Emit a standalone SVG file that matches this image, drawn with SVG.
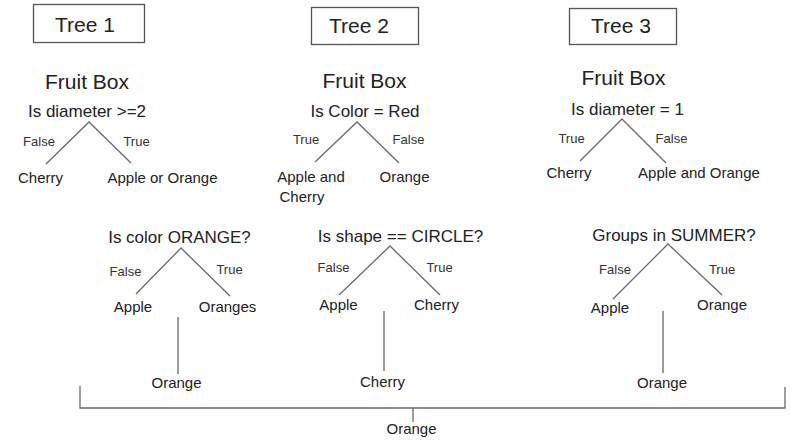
<svg xmlns="http://www.w3.org/2000/svg" width="790" height="441" viewBox="0 0 790 441">
<style>
text{font-family:"Liberation Sans",Arial,sans-serif;fill:#222;text-anchor:middle}
.title{font-size:21px}
.fb{font-size:21px}
.q{font-size:17px}
.leaf{font-size:15px}
.lbl{font-size:13px;fill:#333}
.box{fill:#fff;stroke:#555;stroke-width:1.3}
.edge{stroke:#6a6a6a;stroke-width:1.3;fill:none}
</style>
<rect width="790" height="441" fill="#fff"/>
<g id="tree1-title"><rect class="box" x="33.5" y="4.5" width="111" height="38"/><text class="title" x="85" y="32">Tree 1</text></g>
<g id="tree2-title"><rect class="box" x="311.5" y="7.5" width="107" height="37"/><text class="title" x="359" y="33">Tree 2</text></g>
<g id="tree3-title"><rect class="box" x="569.5" y="8.5" width="107" height="36"/><text class="title" x="621" y="33">Tree 3</text></g>

<g id="t1-root"><text class="fb" x="87" y="89">Fruit Box</text><text class="q" x="87" y="117" font-size="17.5">Is diameter &gt;=2</text></g>
<g id="t1-cherry"><text class="leaf" x="40.5" y="183">Cherry</text></g>
<g id="t1-appleorange"><text class="leaf" x="162.5" y="183">Apple or Orange</text></g>

<g id="t2-root"><text class="fb" x="364.5" y="88">Fruit Box</text><text class="q" x="365" y="117">Is Color = Red</text></g>
<g id="t2-applecherry"><text class="leaf" x="311" y="182">Apple and</text><text class="leaf" x="302" y="202">Cherry</text></g>
<g id="t2-orange"><text class="leaf" x="404.5" y="182">Orange</text></g>

<g id="t3-root"><text class="fb" x="623.5" y="85">Fruit Box</text><text class="q" x="627.5" y="115" font-size="17.5">Is diameter = 1</text></g>
<g id="t3-cherry"><text class="leaf" x="569" y="178">Cherry</text></g>
<g id="t3-appleorange"><text class="leaf" x="699" y="178">Apple and Orange</text></g>

<g id="q1"><text class="q" x="179.5" y="243">Is color ORANGE?</text></g>
<g id="q1-apple"><text class="leaf" x="133" y="312">Apple</text></g>
<g id="q1-oranges"><text class="leaf" x="227.5" y="312">Oranges</text></g>
<g id="q1-result"><text class="leaf" x="176.5" y="388">Orange</text></g>

<g id="q2"><text class="q" x="400.5" y="242">Is shape == CIRCLE?</text></g>
<g id="q2-apple"><text class="leaf" x="338.5" y="310">Apple</text></g>
<g id="q2-cherry"><text class="leaf" x="436.5" y="310">Cherry</text></g>
<g id="q2-result"><text class="leaf" x="382.5" y="387">Cherry</text></g>

<g id="q3"><text class="q" x="674" y="241" font-size="18">Groups in SUMMER?</text></g>
<g id="q3-apple"><text class="leaf" x="610" y="313">Apple</text></g>
<g id="q3-orange"><text class="leaf" x="722" y="310">Orange</text></g>
<g id="q3-result"><text class="leaf" x="662" y="388">Orange</text></g>

<g id="final"><text class="leaf" x="411.5" y="434">Orange</text></g>

<g id="connectors">
<polyline class="edge" points="46,164 89,122 131,163"/>
<polyline class="edge" points="315,162 357,122 399,163"/>
<polyline class="edge" points="580,161 622,119 666,163"/>
<polyline class="edge" points="136,294 181,248 230,296"/>
<polyline class="edge" points="339,295 390,246 440,295"/>
<polyline class="edge" points="613,299 668,244 722,295"/>
<line class="edge" x1="178" y1="317" x2="178" y2="374"/>
<line class="edge" x1="384" y1="311" x2="384" y2="371"/>
<line class="edge" x1="663" y1="311" x2="663" y2="373"/>
<polyline class="edge" points="80,386 80,408 785,408 785,387"/>
<line class="edge" x1="413" y1="408" x2="413" y2="422"/>
<g class="lbl-group">
<text class="lbl" x="39" y="146">False</text>
<text class="lbl" x="136.5" y="146">True</text>
<text class="lbl" x="306" y="144">True</text>
<text class="lbl" x="408.5" y="144">False</text>
<text class="lbl" x="571.5" y="143">True</text>
<text class="lbl" x="671.5" y="143">False</text>
<text class="lbl" x="125.5" y="276">False</text>
<text class="lbl" x="229.5" y="274">True</text>
<text class="lbl" x="333.5" y="272">False</text>
<text class="lbl" x="439.5" y="272">True</text>
<text class="lbl" x="615" y="274">False</text>
<text class="lbl" x="722" y="274">True</text>
</g>
</g>
</svg>
